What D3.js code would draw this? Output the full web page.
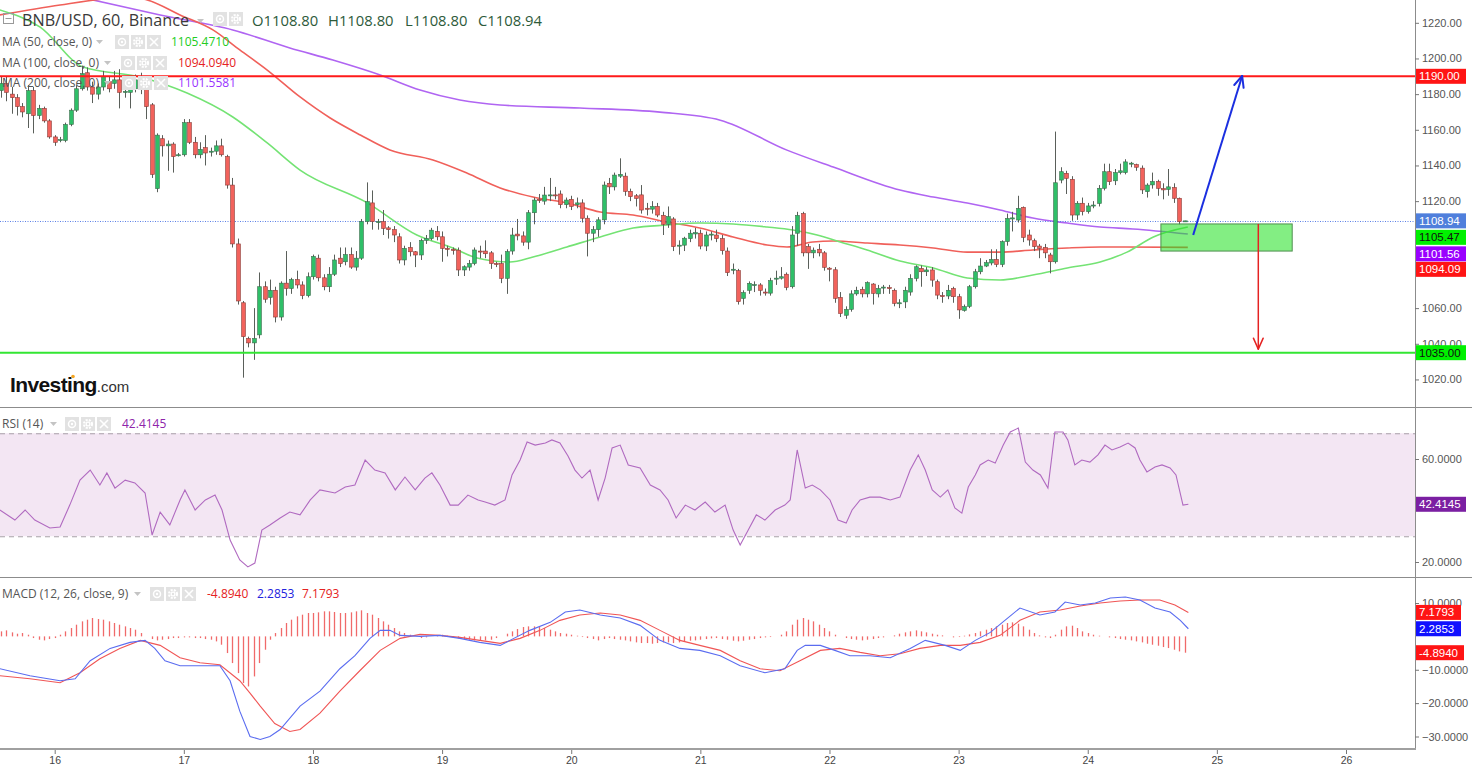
<!DOCTYPE html>
<html><head><meta charset="utf-8">
<script src="https://cdn.jsdelivr.net/npm/d3@7"></script>
<style>body{margin:0;background:#fff;}svg{display:block;}</style>
</head><body>
<svg id="c" width="1472" height="768"></svg>
<script>
// ---------- DATA ----------
const firstHour = -10; // hours relative to day 16 00:00, one candle per hour
const opens = [1182,1186,1180,1178,1173,1169,1182,1168,1172,1165,
1156,1154,1154,1163,1171,1183,1192,1184,1180,1184,1187,1186,1188,1181,1181,1183,1187,1183,1174,1127,
1155,1151,1152,1145.5,1146,1164,1153,1146,1150,1147.5,1148,1151,1145,1129,1096,1063,1043,1040.5,1045,1072,
1066,1070,1055,1074,1071,1076,1073,1067,1077.6,1088,1077,1072,1079,1088,1086,1090,1083,1088,1108.5,1119,
1108.5,1108.5,1105,1104,1100,1087,1094,1091.6,1089.8,1098,1099,1103,1100,1093.5,1093,1092.5,1081.4,1083,1085,1092,
1092,1091,1085,1085,1076.7,1092,1101.5,1100.5,1097,1113.5,1121,1120,1123.4,1123.5,1124,1118,1121,1118,1119,1110.4,
1102,1104,1109.5,1130,1128,1134,1134,1125.5,1123,1123.5,1116,1115.5,1117,1112,1107,1110,1095,1095.3,1099,1101.6,
1102,1094.8,1101,1101,1099,1092,1081.5,1081,1065.5,1070,1073,1073,1069,1068.4,1076.5,1076.8,1079,1072,1102,1113,
1094.5,1091,1093,1091,1082.4,1081.5,1066,1056,1059.3,1068,1070.5,1068,1073.5,1068,1071.5,1071.5,1070,1062.5,1063.5,1069,
1076.7,1082.3,1080.4,1081.4,1074.8,1067,1066.8,1071,1066.4,1058.7,1061,1072,1080.4,1083.6,1085.3,1087.3,1084.5,1097.3,1110,1109.4,
1116.5,1101,1097.8,1094.8,1094,1089.8,1086,1131.8,1135.6,1132.2,1112.2,1118.8,1114.1,1117.3,1118.7,1127.2,1136.5,1131.4,1136,1136,
1141,1140.5,1138.5,1125.3,1129.1,1131,1127,1126.6,1127.6,1121.6,1108.8];
const highs = [1190,1190,1184,1180,1175,1185,1184,1174,1173,1166,
1157,1156,1164,1172,1185,1196,1195,1187,1186,1193,1190,1193,1194,1184,1185,1191,1192,1185,1175,1158,
1157,1154,1153,1147,1166,1166,1156,1153,1157,1150,1154,1155,1146,1133,1099,1064,1044,1060,1080,1075,
1076,1072,1075,1092,1077,1081,1075,1080,1090,1090,1079,1083,1090,1094,1094,1094,1092,1110,1130.5,1126,
1110,1115,1106,1106,1102,1095,1097,1092,1099,1101,1105,1106,1103,1095,1094,1094,1084,1087,1094,1095,
1098,1092,1086,1090,1093,1105,1110,1103,1115,1122,1124,1128,1133,1128,1126,1122,1123,1122,1121,1112,
1106,1111,1131,1133,1136,1144,1136,1127,1124,1129,1119,1120,1119,1114,1117,1111,1098,1100,1104,1105,
1104,1103,1103,1104,1101,1094,1085,1082,1070,1075,1075,1074,1071,1077,1081,1083,1080,1106,1114,1114,
1096,1094,1096,1092,1083,1083,1069,1061,1070,1072,1072,1075,1074,1073,1073,1073,1071,1065,1072,1079,
1084,1084,1083,1083,1076,1069,1073,1072,1068,1062,1073,1082,1088,1087,1093,1093,1098,1113,1114,1123,
1117,1104,1099,1096,1096,1091,1159,1139,1137,1134,1120,1122,1119,1120,1129,1141,1141,1138,1141,1143.5,
1142,1141,1140,1130,1136,1132,1130,1138,1130,1122,1109];
const lows = [1178,1176,1169,1168,1167,1161,1158,1166,1164,1155,
1151,1153,1153,1162,1170,1182,1182,1175,1177,1182,1181,1183,1172,1178,1172,1181,1180,1166,1133,1125,
1145,1137,1136,1145,1145,1152,1144,1144,1140,1145,1146,1145,1127,1094,1062,1021,1038,1031,1043,1063,
1062,1052,1053,1067,1068,1071,1065,1066,1076,1075,1070,1069,1078,1083,1084,1082,1081,1087,1107,1104,
1104,1101,1099,1097,1085,1084,1089,1083,1087,1096,1098,1098,1086,1089,1090,1078,1078,1081,1084,1088,
1088,1082,1083,1074,1068,1090,1098,1095,1093,1107,1119,1118,1120,1121,1116,1116,1115,1116,1108,1089,
1097,1100,1107,1124,1126,1133,1123,1120,1117,1113,1112,1113,1111,1101,1105,1092,1090,1092,1097,1099,
1093,1092,1098,1097,1090,1078,1079,1062,1062,1068,1069,1067,1067,1067,1073,1076,1070,1071,1095,1089,
1082,1088,1089,1081,1075,1063,1055,1054,1058,1067,1066,1066,1062,1066,1068,1068,1061,1060,1060,1067,
1075,1072,1078,1072,1065,1063,1065,1063,1054,1058,1060,1071,1079,1083,1084,1083,1083,1095,1103,1108,
1097,1095,1092,1088,1088,1079.5,1085,1130,1124,1109,1109.5,1112,1113,1116,1117,1126,1129,1129,1135,1135,
1139,1137,1124,1122,1127,1123,1121,1123,1119,1107,1108.8];
const closes = [1186,1181,1178,1173,1170,1182,1168,1172,1165,1156,
1153,1154.5,1163,1171,1183,1191.5,1184,1180,1184,1190,1183,1188,1181,1181.5,1183,1188,1183,1173,1135,1157,
1151,1152,1145,1146,1164,1153,1146,1149,1147,1148,1151,1146,1129,1096,1064,1044,1040.5,1043,1072,1065,
1070,1055,1074,1071,1076,1073,1067,1077.6,1089,1077,1072,1079,1087,1085,1090,1083,1088,1108.5,1119.7,1108.5,
1108.5,1104.7,1104,1101,1087,1093.5,1091.6,1089.8,1098,1099,1103.7,1100,1093.5,1093,1092.3,1081.4,1083.2,1085,1092.6,1091.5,
1090.5,1085,1084.5,1076.7,1091.7,1101,1100.5,1097,1113.5,1120.6,1120.3,1123.4,1123.5,1123.4,1118,1120.6,1117,1119,1110.4,1102,
1104,1109.5,1129,1128,1134.6,1135,1125.5,1122.5,1121.5,1115,1115.7,1117,1112.2,1107,1111.3,1094.5,1095.3,1099.2,1102,1102.3,
1094.8,1101,1101.5,1099,1092.2,1079.9,1081.8,1063.6,1068.7,1073.9,1073.2,1070,1068.7,1075.4,1076.8,1077.6,1071.6,1101,1112,1091,
1091,1092.5,1091,1082.9,1081.8,1065.5,1057,1059.3,1068,1070,1068,1074.3,1068.3,1071,1071.8,1071,1062.7,1063,1070,1076.7,
1083.2,1080.4,1081.4,1075.7,1067.3,1066.8,1070,1066.4,1059,1060.8,1072,1080.4,1083.6,1085.5,1087.3,1084.5,1097.3,1110.3,1110.6,1115.9,
1099.7,1098.2,1094.5,1093.5,1091,1086,1130.3,1136.5,1132.8,1112.2,1118.8,1114.1,1117.3,1117.8,1127.2,1136.5,1130.9,1136,1137,1142,
1141.3,1139,1126.3,1129,1131,1127.2,1126.3,1128,1121.6,1108.5,1108.94];

// moving averages: [hour, value]
const ma50 = [[-10.2,1227.2],[-2.7,1217.6],[5.3,1195.2],[15.9,1189.6],[24.6,1180.6],[33.1,1167.2],[39.5,1152.6],[45.6,1137.4],
[58.1,1119],[67.3,1101],[74,1093.7],[78.5,1088.1],[84.6,1085.9],[88.9,1088.7],[95.2,1094.3],[101.4,1099.9],[107.5,1104.9],
[113.8,1106.6],[119.9,1107.7],[126.1,1107.2],[132.4,1105.5],[137.2,1103.8],[141.7,1101],[146,1097.1],[151,1092.6],[157.1,1086.4],
[163.3,1082.5],[169.6,1076.9],[175.7,1075.8],[181.8,1078.6],[188.2,1082.5],[194.3,1085.9],[199.3,1091.4],[204.2,1099.9],[210.6,1105.47]];
const ma100 = [[-10.2,1224.4],[1,1230],[10.8,1233.9],[14,1234.5],[17.2,1232.8],[23.3,1224.4],[29.4,1216],[34.4,1204.8],[39.5,1193.5],
[45.6,1178.4],[51.2,1166.6],[56.8,1157.1],[62.3,1148.7],[70.3,1143.1],[76.6,1135.8],[82.8,1127.4],[88.9,1122.3],[95.2,1119],
[101.4,1113.9],[107.5,1112.2],[113.8,1108.3],[119.9,1104.9],[126.1,1099.9],[132.4,1095.4],[136.1,1094.3],[140.9,1097.1],[144.7,1097.6],
[151,1096.5],[157.1,1095.4],[163.3,1093.7],[169.6,1091.4],[175.7,1091.4],[181.8,1092.6],[188.2,1093.7],[194.3,1094.3],[210.6,1094.09]];
const ma200 = [[7.1,1232.8],[19.6,1224.4],[33.1,1216],[43.7,1205.9],[51.7,1199.1],[60.5,1190.7],[67.9,1182.3],[75.3,1176.7],
[82.8,1173.9],[97.6,1172.2],[112.5,1169.9],[123.7,1165.4],[136.1,1148.6],[144.7,1139.1],[157.1,1126.2],[163.3,1122.3],[169.6,1118.9],
[175.7,1115],[181.8,1110.5],[188.2,1107.7],[194.3,1105.5],[200.4,1104.4],[210.6,1101.56]];

// RSI(14): [hour, value]
const rsi = [[-10.2,40.2],[-7.4,36.3],[-5.5,40.2],[-3.7,36.3],[-0.9,33.2],[1,33.6],[2.8,42.1],[4.7,51.8],[6.6,55.7],[8.4,49.9],
[9.7,54.6],[11.2,48.7],[13.1,51.8],[14.9,50.7],[16.8,46.8],[18.1,30.5],[19.6,39.4],[21.4,34.4],[23.3,44.1],[24.2,48],[26.1,40.2],
[28,44.1],[29.8,46],[31.1,40.2],[32.6,28.5],[34.4,20.8],[35.9,18.1],[37.2,19.6],[38.5,32.4],[40,34.4],[41.9,37.1],[43.7,39.4],
[45.6,38.3],[47.5,44.1],[49.3,48],[52.1,46.8],[54,49.1],[55.8,49.9],[57.7,59.6],[59.5,55.7],[61.4,54.6],[63.3,48],[65.1,53],
[67,48],[68.8,52.6],[70.1,54.6],[71.6,49.9],[73.5,42.1],[75,42.1],[76.8,46],[78.7,44.1],[80,43.3],[81.8,42.1],[83.7,44.1],
[85,53.8],[86.5,59.6],[87.8,66.6],[89.3,65.4],[91.2,66.2],[92.4,67.4],[93.9,66.2],[95.4,61.2],[96.7,55.7],[98,52.6],[99.5,55.7],
[101,44.1],[102.3,52.6],[103.6,64.3],[105.1,65.4],[106.6,57.7],[108.8,56.5],[110.7,49.9],[112.5,48],[114,44.1],[115.5,37.1],
[117.2,42.1],[119,40.2],[120.9,43.3],[122.7,39.4],[124.6,42.1],[126.1,32.4],[127.4,26.6],[128.9,32.4],[130.4,38.3],[132,36.3],
[133.9,40.2],[135.7,42.1],[136.7,44.1],[138,63.5],[139.5,48.7],[140.8,49.9],[142.3,48],[144.1,44.1],[145.6,36.3],[147.1,35.1],
[148.2,40.2],[149.7,44.1],[151.5,45.2],[153.4,45.2],[155.3,44.1],[157.1,45.2],[159,55.7],[160.5,61.6],[161.8,55.7],[163.1,48],
[164.6,45.2],[166,48],[167.3,41],[168.6,39],[169.8,49.1],[171.1,53.8],[172,57.7],[173.5,59.6],[174.8,58.4],[176.3,65.4],
[177.6,70.5],[179.1,72],[180.4,58.8],[181.8,55.7],[183.2,53.8],[184.6,48.7],[185.9,70.5],[187.4,70.5],[188.3,67.4],[189.6,57.7],
[190.9,59.6],[192.4,58.8],[193.9,61.6],[195.2,65.4],[196.5,63.5],[198,64.7],[199.5,66.2],[200.8,64.3],[201.7,59.6],[203,55],
[204.5,56.9],[205.8,57.7],[207.3,56.5],[208.4,53.8],[209.7,42.1],[210.7,42.4145]];

// MACD (12,26,9): lines [hour, value], histogram one value per candle
const macdLine = [[-10.2,-9.7],[-4.6,-11.8],[1,-13.3],[3.8,-12.7],[6.6,-7.3],[10.3,-3.6],[14,-1.8],[16.8,-1.2],[18.6,-3.6],
[20.5,-7.3],[23.3,-8.8],[27,-8.8],[30.7,-8.8],[32.6,-13.3],[34.4,-22.4],[36.3,-30],[38.2,-30.9],[40,-30],[41.9,-27.9],[45.6,-20.9],
[49.3,-16.4],[53,-9.7],[55.8,-5.8],[58.6,-0.6],[60.5,1.8],[62.3,1.8],[64.2,0.3],[67.9,0],[71.6,0.3],[75.3,-0.6],[79,-1.8],
[82.8,-2.7],[84.6,-1.2],[88.3,1.8],[92.1,4.2],[94.9,7.3],[97.6,7.9],[101.4,6.4],[105.1,5.5],[108.8,3.3],[112.5,-1.2],[116.2,-3.6],
[119.9,-4.2],[123.7,-5.8],[127.4,-8.8],[132,-10.9],[135.7,-9.7],[138,-4.2],[139.5,-2.7],[142.3,-2.7],[145,-4.2],[147.8,-5.8],
[151.5,-5.8],[155.3,-6.4],[159,-3.6],[161.8,-1.2],[165.5,-2.7],[168.3,-4.2],[171.1,-1.2],[173.9,1.2],[176.6,4.8],[179.4,8.5],
[183.1,6.4],[185.9,7.3],[187.8,10.3],[190.6,9.4],[193.4,10],[196.2,11.5],[199,11.8],[201.7,10.9],[204.5,8.5],[207.3,7.3],
[209.2,4.8],[210.7,2.2853]];
const signalLine = [[-10.2,-11.8],[-4.6,-12.7],[1,-13.9],[4.7,-10.9],[8.4,-6.7],[12.1,-3.6],[15.9,-1.2],[19.6,-2.7],[23.3,-6.4],
[27,-7.9],[30.7,-8.5],[34.4,-13.3],[36.3,-17],[38.2,-20.9],[40.9,-26.1],[43.7,-28.5],[45.6,-27.9],[49.3,-23],[53,-16.4],[56.7,-10.3],
[60.5,-4.2],[64.2,-0.6],[67.9,0.6],[71.6,0.3],[75.3,-0.3],[79,-1.2],[82.8,-2.1],[86.5,-0.6],[90.2,1.8],[93.9,4.8],[97.6,6.4],
[101.4,7],[105.1,6.4],[108.8,4.8],[112.5,1.8],[116.2,-1.2],[119.9,-2.7],[123.7,-4.2],[127.4,-7.3],[131.1,-9.7],[134.8,-10.3],
[138.5,-7.3],[142.3,-4.2],[145.9,-3.6],[149.7,-4.8],[153.4,-5.8],[157.1,-5.2],[160.8,-3.6],[164.6,-2.7],[168.3,-2.7],[172,-1.8],
[175.7,0.3],[179.4,4.8],[183.1,7.3],[186.9,7.9],[190.6,9.1],[194.3,10],[198,10.6],[201.7,10.9],[205.4,10.9],[208.2,9.4],[210.7,7.1793]];
const macdHist = [1.5,1.8,1.2,0.8,1.0,0.5,-0.5,-1.0,-1.2,-0.8,
-0.5,0.5,1.5,2.5,
3.5,4.5,5.0,5.5,5.2,5.0,4.5,4.0,3.5,3.0,2.5,2.0,
1.0,0,-0.8,-1.2,-1.0,-0.8,-0.5,-0.5,-0.3,-0.3,-0.5,-0.5,-0.8,-1.0,-1.5,-2.5,
-5,-8,-11,-14,-15,-12,-8,-4,
-1,1,2.5,4,
5,6,6.5,7,7,7.2,7.5,7.5,7.3,7,7,7.2,7.5,7.8,7,6.5,5.5,4.5,3.5,2.5,
1.5,1,0.5,0,-0.5,-0.3,0,0.3,0.5,0.2,-0.3,-0.6,-0.8,-1,-1.2,-1.3,-1.2,-1,-0.5,
0,0.8,1.5,2.2,2.8,3,3,2.8,2.5,2,1.5,
1,0.8,0.5,0.2,-0.2,-0.5,-0.8,-1.2,
-0.8,-0.5,-0.8,-1,-1.2,-1.5,-1.8,-2,-2,-2.2,-2,-1.8,-1.8,-2,-1.8,-1.5,-1.3,-1.2,-1,
-0.8,-0.6,-0.5,-0.8,-1,-1.3,-1.5,-1.3,-1,-0.8,-0.5,-0.3,-0.2,0,0.5,1.5,
3.5,5,5.5,5,4.5,3.5,2.5,1.5,
0.5,0,-0.5,-0.8,-1,-1.2,-1,-0.8,-0.5,-0.3,0,0.3,
0.8,1.2,1.5,1.8,1.5,1.2,0.8,0.5,0.3,0,
-0.3,-0.2,0.2,0.6,1,1.5,2,
2.5,3,3.5,4,4.2,3.8,3,2,
1,0.3,-0.3,-0.5,0.5,2,
3,3.2,2.5,1.5,
1,0.5,0.2,0,-0.3,-0.5,-0.8,-1,-1.2,-1.5,-1.8,-2.2,-2.5,-2.8,-3.2,-3.5,-4,-4.5,-4.894];

// axis ticks (labels hidden behind the value tags in the reference are left out)
const dayLabels = [16,17,18,19,20,21,22,23,24,25,26];
const priceTicks = [1020,1040,1060,1120,1140,1160,1180,1200,1220];
const rsiTicks = [20,60];
const macdTicks = [-30,-20,-10,10];

// levels & annotations
const resistance = 1190, support = 1035, lastPrice = 1108.94;
const zoneBox = {h0:205.6, h1:230, p0:1092, p1:1107.2};
const upArrow = {h0:211.6, p0:1101, h1:220.7, p1:1190.2};
const downArrow = {h:223.7, p0:1107.2, p1:1037};

// ---------- DRAW ----------
const svg = d3.select("#c");
const AX = 1415; // right axis x
const x = d3.scaleLinear().domain([0,240]).range([54.7,1346]);
const yP = d3.scaleLinear().domain([1035,1190]).range([352.7,76.3]);
const yR = d3.scaleLinear().domain([20,60]).range([562,459]);
const yM = d3.scaleLinear().domain([-30,10]).range([736.5,603]);

const defs = svg.append("defs");
[["cpMain",0,0,407],["cpRsi",0,408,169],["cpMacd",0,578,170]].forEach(([id,x0,y0,h])=>{
  defs.append("clipPath").attr("id",id).append("rect").attr("x",x0).attr("y",y0).attr("width",AX).attr("height",h);
});

const FONT = "'Open Sans', 'DejaVu Sans', sans-serif";
const AFONT = "'Liberation Sans', Arial, sans-serif";

// RSI band
const gR = svg.append("g").attr("clip-path","url(#cpRsi)");
gR.append("rect").attr("x",0).attr("width",AX).attr("y",yR(70)).attr("height",yR(30)-yR(70)).attr("fill","#f3e6f3");
[70,30].forEach(v=>gR.append("line").attr("x1",0).attr("x2",AX).attr("y1",yR(v)+0.5).attr("y2",yR(v)+0.5)
  .attr("stroke","#a8a0a8").attr("stroke-dasharray","5,4").attr("stroke-width",1));

// main panel
const gM = svg.append("g").attr("clip-path","url(#cpMain)");
const candles = opens.map((o,i)=>({h:firstHour+i,o,hi:highs[i],lo:lows[i],c:closes[i]}));

// MA lines
const line = (ys)=>d3.line().x(d=>x(d[0])).y(d=>ys(d[1])).curve(d3.curveMonotoneX);
gM.append("path").attr("d",line(yP)(ma200)).attr("fill","none").attr("stroke","#b065f2").attr("stroke-width",1.6);
gM.append("path").attr("d",line(yP)(ma100)).attr("fill","none").attr("stroke","#f0605a").attr("stroke-width",1.6);
gM.append("path").attr("d",line(yP)(ma50)).attr("fill","none").attr("stroke","#74e374").attr("stroke-width",1.6);

// last price dotted line
gM.append("line").attr("x1",0).attr("x2",AX).attr("y1",Math.round(yP(lastPrice))+0.5).attr("y2",Math.round(yP(lastPrice))+0.5)
  .attr("stroke","#5b80e6").attr("stroke-dasharray","1,1.5").attr("stroke-width",1);

// candles
const cw = 3.8;
const cg = gM.append("g");
cg.selectAll("line.w").data(candles).join("line").attr("class","w")
  .attr("x1",d=>Math.round(x(d.h))+0.5).attr("x2",d=>Math.round(x(d.h))+0.5)
  .attr("y1",d=>yP(d.hi)).attr("y2",d=>yP(d.lo)).attr("stroke","#5a5f5a").attr("stroke-width",1);
cg.selectAll("rect").data(candles).join("rect")
  .attr("x",d=>Math.round(x(d.h))+0.5-cw/2).attr("width",cw)
  .attr("y",d=>yP(Math.max(d.o,d.c))).attr("height",d=>Math.max(1,Math.abs(yP(d.o)-yP(d.c))))
  .attr("fill",d=>d.c>=d.o?"#2fbf68":"#f2625c")
  .attr("stroke",d=>d.c>=d.o?"#3d6b4c":"#8a3a36").attr("stroke-width",0.6);

// horizontal levels
gM.append("line").attr("x1",0).attr("x2",AX).attr("y1",yP(resistance)).attr("y2",yP(resistance)).attr("stroke","#ff1a1a").attr("stroke-width",2);
gM.append("line").attr("x1",0).attr("x2",AX).attr("y1",yP(support)).attr("y2",yP(support)).attr("stroke","#33e633").attr("stroke-width",2);

// zone box
gM.append("rect").attr("x",x(zoneBox.h0)).attr("width",x(zoneBox.h1)-x(zoneBox.h0))
  .attr("y",yP(zoneBox.p1)).attr("height",yP(zoneBox.p0)-yP(zoneBox.p1))
  .attr("fill","#1de01d").attr("fill-opacity",0.55).attr("stroke","#4f8f4f").attr("stroke-width",1);

function arrow(g,x0,y0,x1,y1,color,w){
  g.append("line").attr("x1",x0).attr("y1",y0).attr("x2",x1).attr("y2",y1).attr("stroke",color).attr("stroke-width",w);
  const a = Math.atan2(y1-y0,x1-x0), L=12, s=0.42;
  [a+Math.PI-s,a+Math.PI+s].forEach(b=>g.append("line").attr("x1",x1).attr("y1",y1)
    .attr("x2",x1+L*Math.cos(b)).attr("y2",y1+L*Math.sin(b)).attr("stroke",color).attr("stroke-width",w).attr("stroke-linecap","round"));
}
arrow(gM,x(upArrow.h0),yP(upArrow.p0),x(upArrow.h1),yP(upArrow.p1),"#1b2fe0",2);
arrow(gM,x(downArrow.h),yP(downArrow.p0),x(downArrow.h),yP(downArrow.p1),"#e52222",1.5);

// Investing.com logo
const logo = svg.append("text").attr("x",10).attr("y",392).attr("font-family",AFONT).attr("fill","#111");
logo.append("tspan").text("Investing").attr("font-weight","bold").attr("font-size",21).attr("letter-spacing",-0.6);
logo.append("tspan").text(".com").attr("font-size",15).attr("fill","#333");
svg.append("circle").attr("cx",73).attr("cy",376.5).attr("r",1.8).attr("fill","#f5a623");

// RSI line
gR.append("path").attr("d",line(yR).curve(d3.curveLinear)(rsi)).attr("fill","none").attr("stroke","#b06ac0").attr("stroke-width",1.1);

// MACD
const gC = svg.append("g").attr("clip-path","url(#cpMacd)");
gC.selectAll("line.h").data(macdHist).join("line").attr("class","h")
  .attr("x1",(d,i)=>Math.round(x(firstHour+i))+0.5).attr("x2",(d,i)=>Math.round(x(firstHour+i))+0.5)
  .attr("y1",yM(0)).attr("y2",d=>yM(d)).attr("stroke","#f06a6a").attr("stroke-width",1.3);
gC.append("path").attr("d",line(yM).curve(d3.curveLinear)(signalLine)).attr("fill","none").attr("stroke","#f05555").attr("stroke-width",1.1);
gC.append("path").attr("d",line(yM).curve(d3.curveLinear)(macdLine)).attr("fill","none").attr("stroke","#5a6cf0").attr("stroke-width",1.1);

// frame lines
svg.append("line").attr("x1",AX+0.5).attr("x2",AX+0.5).attr("y1",0).attr("y2",749).attr("stroke","#8c8c8c");
svg.append("line").attr("x1",0).attr("x2",1472).attr("y1",407.5).attr("y2",407.5).attr("stroke","#8c8c8c");
svg.append("line").attr("x1",0).attr("x2",1472).attr("y1",577.5).attr("y2",577.5).attr("stroke","#8c8c8c");
svg.append("line").attr("x1",0).attr("x2",AX+1).attr("y1",749).attr("y2",749).attr("stroke","#a0a0a0").attr("stroke-width",2);

// right axes
function rightAxis(scale,ticks,fmt){
  const g = svg.append("g").attr("transform",`translate(${AX},0)`)
    .call(d3.axisRight(scale).tickValues(ticks).tickFormat(fmt).tickSize(4).tickPadding(3));
  g.select(".domain").remove();
  g.selectAll(".tick line").attr("stroke","#777");
  g.selectAll(".tick text").attr("fill","#555").attr("font-family",AFONT).attr("font-size",11);
}
rightAxis(yP,priceTicks,d3.format(".2f"));
rightAxis(yR,rsiTicks,d3.format(".4f"));
rightAxis(yM,macdTicks,d3.format(".4f"));

// bottom axis
const gx = svg.append("g").attr("transform","translate(0,750)")
  .call(d3.axisBottom(x).tickValues(dayLabels.map(d=>(d-16)*24)).tickFormat(d=>dayLabels[d/24]).tickSize(4).tickPadding(3));
gx.select(".domain").remove();
gx.selectAll(".tick line").attr("stroke","#777");
gx.selectAll(".tick text").attr("fill","#444").attr("font-family",AFONT).attr("font-size",10.5);

// value tags
function tag(yc,label,bg,fg,w){
  svg.append("rect").attr("x",AX+1).attr("y",yc-7.5).attr("width",w).attr("height",15).attr("fill",bg);
  svg.append("text").attr("x",AX+4).attr("y",yc+4).text(label).attr("fill",fg).attr("font-family",AFONT).attr("font-size",11.5);
}
tag(yP(resistance),"1190.00","#ff1414","#fff",50);
tag(yP(lastPrice),"1108.94","#4f7fdc","#fff",50);
tag(yP(lastPrice)+16.5,"1105.47","#00f000","#111",50);
tag(yP(lastPrice)+33,"1101.56","#9a00ff","#fff",50);
tag(yP(lastPrice)+48.5,"1094.09","#ff1414","#fff",50);
tag(yP(support),"1035.00","#00f000","#111",50);
tag(yR(42.4145),"42.4145","#7b1fa2","#fff",50);
tag(yM(7.1793),"7.1793","#ff1414","#fff",45);
tag(yM(2.2853),"2.2853","#1010ff","#fff",45);
tag(yM(-4.894),"-4.8940","#ff1414","#fff",48);

// header / legends
function icons(x0,y0,n){
  for(let k=0;k<n;k++){
    const xx=x0+k*16;
    svg.append("rect").attr("x",xx).attr("y",y0).attr("width",14).attr("height",14).attr("fill","#e2e2e2");
    const cx=xx+7, cy=y0+7;
    if(k===0){svg.append("circle").attr("cx",cx).attr("cy",cy).attr("r",3.5).attr("fill","none").attr("stroke","#fff").attr("stroke-width",1.5);
      svg.append("circle").attr("cx",cx).attr("cy",cy).attr("r",1.2).attr("fill","#fff");}
    else if(k===1){svg.append("circle").attr("cx",cx).attr("cy",cy).attr("r",4).attr("fill","none").attr("stroke","#fff").attr("stroke-width",2.2).attr("stroke-dasharray","2,1.2");
      svg.append("circle").attr("cx",cx).attr("cy",cy).attr("r",2.5).attr("fill","#fff");svg.append("circle").attr("cx",cx).attr("cy",cy).attr("r",1.2).attr("fill","#e2e2e2");}
    else {svg.append("path").attr("d",`M${cx-4},${cy-4}L${cx+4},${cy+4}M${cx+4},${cy-4}L${cx-4},${cy+4}`).attr("stroke","#fff").attr("stroke-width",1.6);}
  }
}
function caret(x0,y0){svg.append("path").attr("d",`M${x0},${y0}l7,0l-3.5,4z`).attr("fill","#c4c4c4");}
function txt(x0,y0,s,fill,size){return svg.append("text").attr("x",x0).attr("y",y0).text(s).attr("fill",fill).attr("font-family",FONT).attr("font-size",size);}

svg.append("rect").attr("x",3.5).attr("y",13.5).attr("width",10).attr("height",10).attr("fill","none").attr("stroke","#999");
svg.append("line").attr("x1",5.5).attr("x2",11.5).attr("y1",18.5).attr("y2",18.5).attr("stroke","#999");
txt(22,26,"BNB/USD, 60, Binance","#3a3a3a",16.2);
caret(197,19); icons(213,12,2);
const ohlc = [["O","1108.80",252],["H","1108.80",328],["L","1108.80",405],["C","1108.94",478]];
ohlc.forEach(([k,v,xx])=>txt(xx,26,k+v,"#2d5a3a",14.8));

txt(2,46,"MA (50, close, 0)","#555",12); caret(96,40); icons(115,35,3); txt(171,46,"1105.4710","#22cc22",12);
txt(2,67,"MA (100, close, 0)","#555",12); caret(104,61); icons(121,56,3); txt(178,67,"1094.0940","#e52222",12);
txt(2,87,"MA (200, close, 0)","#555",12); caret(104,81); icons(122,76,3); txt(178,87,"1101.5581","#9933ff",12);

txt(2,428,"RSI (14)","#555",12); caret(50,422); icons(65,417,3); txt(122,428,"42.4145","#8e24aa",12);
txt(2,598,"MACD (12, 26, close, 9)","#555",12); caret(134,592); icons(150,587,3);
txt(207,598,"-4.8940","#e52222",12); txt(257,598,"2.2853","#2222dd",12); txt(302,598,"7.1793","#e52222",12);
</script>
</body></html>
